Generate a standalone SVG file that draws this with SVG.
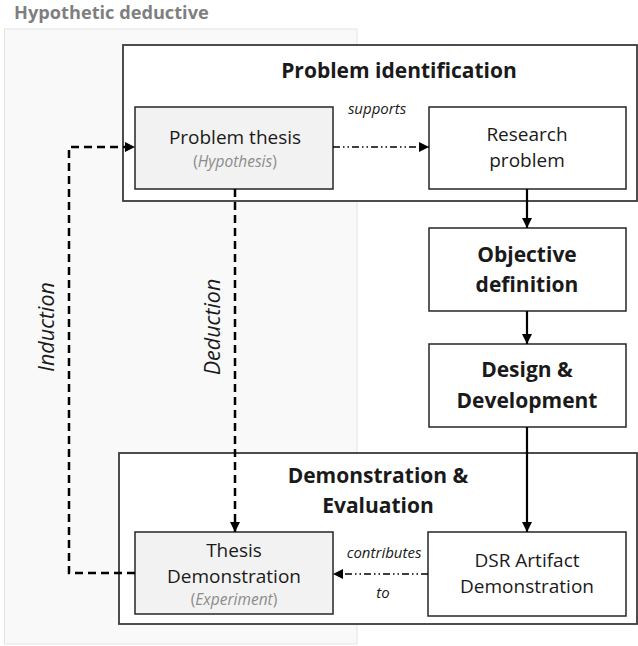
<svg xmlns="http://www.w3.org/2000/svg" width="638" height="646" viewBox="0 0 638 646">
  <style>
    text { font-family: "Open Sans", "Noto Sans", "Liberation Sans", sans-serif; fill: #1a1a1a; text-anchor: middle; }
    .box { fill: #ffffff; stroke: #262626; stroke-width: 1.5; }
    .grey { fill: #f2f2f2; stroke: #262626; stroke-width: 1.5; }
    .frame { fill: #ffffff; stroke: #3a3a3a; stroke-width: 1.8; }
    .lbl { font-size: 19px; }
    .bold { font-size: 21px; font-weight: bold; }
    .title { font-size: 21px; font-weight: bold; }
    .sub { font-size: 15.5px; fill: #8c8c8c; }
    .edge { font-size: 15px; font-style: italic; }
    .side { font-size: 21.5px; font-style: italic; }
    .solid { fill: none; stroke: #000; stroke-width: 2.2; }
    .dash { fill: none; stroke: #000; stroke-width: 2.5; stroke-dasharray: 8 5; }
    .dashdot { fill: none; stroke: #000; stroke-width: 1.3; stroke-dasharray: 7 3 1.5 3 1.5 3; }
  </style>
  <defs>
    <marker id="head" viewBox="0 0 10 10" refX="10" refY="5" markerWidth="10" markerHeight="10" markerUnits="userSpaceOnUse" orient="auto">
      <path d="M0,0 L10,5 L0,10 Z" fill="#000"/>
    </marker>
  </defs>

  <!-- hypothetic deductive lane -->
  <g id="lane">
    <text x="14" y="19" style="font-size:18.2px;font-weight:bold;fill:#7f7f7f;text-anchor:start">Hypothetic deductive</text>
    <rect x="4.5" y="29" width="352.5" height="615" fill="#f9f9f9" stroke="#e3e3e3" stroke-width="1"/>
  </g>

  <!-- phase frames -->
  <g id="problem-identification">
    <rect class="frame" x="123" y="45" width="514" height="156"/>
    <text class="title" x="399" y="78">Problem identification</text>
  </g>
  <g id="demonstration-evaluation">
    <rect class="frame" x="119" y="453" width="518" height="171"/>
    <text class="title" x="378" y="483">Demonstration &amp;</text>
    <text class="title" x="378" y="513">Evaluation</text>
  </g>

  <!-- nodes -->
  <g id="problem-thesis">
    <rect class="grey" x="135" y="107" width="198" height="82"/>
    <text class="lbl" x="235" y="144">Problem thesis</text>
    <text class="sub" x="235" y="167">(<tspan font-style="italic">Hypothesis</tspan>)</text>
  </g>
  <g id="research-problem">
    <rect class="box" x="429" y="107" width="197" height="82"/>
    <text class="lbl" x="527" y="141">Research</text>
    <text class="lbl" x="527" y="167">problem</text>
  </g>
  <g id="objective-definition">
    <rect class="box" x="429" y="228" width="197" height="83"/>
    <text class="bold" x="527" y="262">Objective</text>
    <text class="bold" x="527" y="292">definition</text>
  </g>
  <g id="design-development">
    <rect class="box" x="429" y="344" width="197" height="83"/>
    <text class="bold" x="527" y="377">Design &amp;</text>
    <text class="bold" x="527" y="408">Development</text>
  </g>
  <g id="dsr-artifact">
    <rect class="box" x="428" y="532" width="198" height="84"/>
    <text class="lbl" x="527" y="567">DSR Artifact</text>
    <text class="lbl" x="527" y="593">Demonstration</text>
  </g>
  <g id="thesis-demonstration">
    <rect class="grey" x="135" y="532" width="198" height="82"/>
    <text class="lbl" x="234" y="557">Thesis</text>
    <text class="lbl" x="234" y="583">Demonstration</text>
    <text class="sub" x="234" y="605">(<tspan font-style="italic">Experiment</tspan>)</text>
  </g>

  <!-- connectors -->
  <g id="connectors">
    <path class="solid" d="M527,189 V228" marker-end="url(#head)"/>
    <path class="solid" d="M527,311 V344" marker-end="url(#head)"/>
    <path class="solid" d="M527,427 V532" marker-end="url(#head)"/>
    <path class="dashdot" d="M333,147 H429" marker-end="url(#head)"/>
    <text class="edge" x="377" y="114">supports</text>
    <path class="dashdot" d="M428,574 H333" marker-end="url(#head)"/>
    <text class="edge" x="384" y="558">contributes</text>
    <text class="edge" x="383" y="598">to</text>
    <path class="dash" d="M235,189 V532" marker-end="url(#head)"/>
    <path class="dash" d="M135,573 H69 V147 H135" marker-end="url(#head)"/>
    <text class="side" transform="translate(54,327) rotate(-90)">Induction</text>
    <text class="side" transform="translate(220,327) rotate(-90)">Deduction</text>
  </g>
</svg>
